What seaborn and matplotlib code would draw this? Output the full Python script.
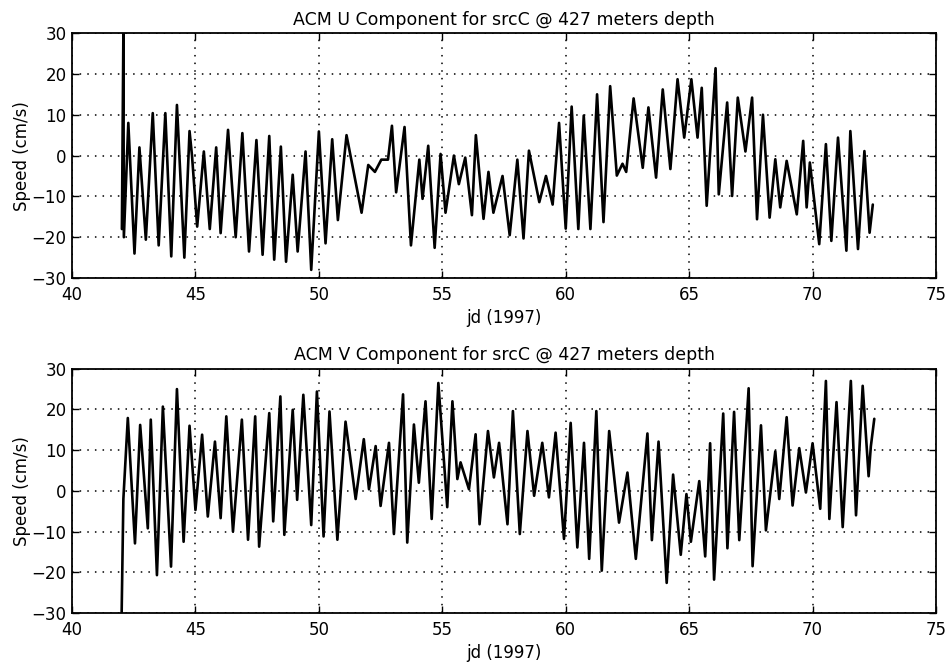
import numpy as np
import pandas as pd
import seaborn as sns
import matplotlib.pyplot as plt

# U component: turning points
u_day = [42.02, 42.08, 42.10, 42.28, 42.53, 42.73, 42.99, 43.27, 43.51, 43.78,
         44.02, 44.25, 44.55, 44.76, 44.86, 45.07, 45.34, 45.58, 45.84, 46.02,
         46.32, 46.63, 46.90, 47.17, 47.47, 47.72, 47.99, 48.19, 48.46, 48.67,
         48.94, 49.14, 49.46, 49.69, 50.00, 50.27, 50.54, 50.77, 51.12, 51.73,
         52.00, 52.27, 52.53, 52.80, 52.96, 53.13, 53.47, 53.73, 54.07, 54.20,
         54.43, 54.69, 54.93, 55.13, 55.47, 55.67, 55.93, 56.20, 56.36, 56.67,
         56.87, 57.07, 57.44, 57.73, 58.04, 58.29, 58.51, 58.93, 59.20, 59.47,
         59.73, 60.00, 60.24, 60.51, 60.73, 61.00, 61.27, 61.53, 61.80, 62.07,
         62.30, 62.45, 62.75, 63.12, 63.35, 63.66, 63.93, 64.24, 64.53, 64.80,
         65.09, 65.34, 65.51, 65.71, 66.07, 66.20, 66.54, 66.74, 66.97, 67.28,
         67.55, 67.75, 67.99, 68.26, 68.49, 68.69, 68.95, 69.36, 69.62, 69.76,
         69.89, 70.27, 70.54, 70.76, 71.03, 71.37, 71.53, 71.84, 72.10, 72.31,
         72.44]
u_speed = [-18, 30, -20, 8, -24, 2, -20.6, 10.4, -22, 10.4,
           -24.7, 12.4, -25, 6, 0, -17.4, 1, -18, 2, -19,
           6.3, -20, 5.5, -23.5, 3.8, -24.3, 4.8, -25.5, 2.2, -26,
           -4.7, -23.5, 1, -28, 5.9, -21.5, 4, -15.8, 5, -14,
           -2.3, -4, -1, -1, 7.3, -9, 7, -22, -1, -10.6,
           2.4, -22.6, 0.4, -14, 0, -7, -0.5, -14.6, 5, -15.5,
           -4, -14, -5, -19.5, -1, -20.3, 1.2, -11.4, -5, -12,
           8, -17.9, 12, -18, 9.8, -18, 15, -16.3, 17, -4.9,
           -2, -4, 14, -3, 11.8, -5.4, 16.2, -3.3, 18.7, 4.4,
           18.7, 4.4, 16.6, -12.3, 21.4, -9.5, 13, -9.9, 14.2, 1,
           14.2, -15.6, 10, -15.2, -0.9, -12.7, -1.3, -14.4, 3.6, -12.7,
           -1.7, -21.7, 2.8, -20.9, 4.4, -23.3, 6, -22.9, 1.1, -18.9,
           -12]

# V component: turning points
v_day = [42.01, 42.08, 42.26, 42.55, 42.76, 43.07, 43.19, 43.44, 43.68, 44.01,
         44.25, 44.52, 44.76, 45.00, 45.27, 45.50, 45.79, 46.02, 46.25, 46.52,
         46.88, 47.13, 47.42, 47.58, 47.99, 48.15, 48.44, 48.60, 48.94, 49.12,
         49.37, 49.69, 49.92, 50.19, 50.43, 50.75, 51.08, 51.49, 51.82, 52.03,
         52.30, 52.50, 52.84, 53.04, 53.41, 53.58, 53.85, 54.05, 54.32, 54.57,
         54.84, 55.20, 55.41, 55.61, 55.74, 56.08, 56.35, 56.51, 56.85, 57.09,
         57.30, 57.64, 57.86, 58.14, 58.45, 58.72, 59.05, 59.32, 59.59, 59.93,
         60.20, 60.47, 60.74, 60.95, 61.24, 61.46, 61.76, 62.16, 62.50, 62.84,
         63.31, 63.49, 63.76, 64.09, 64.35, 64.66, 64.89, 65.07, 65.41, 65.65,
         65.85, 66.01, 66.38, 66.55, 66.82, 67.03, 67.41, 67.57, 67.91, 68.11,
         68.49, 68.65, 68.95, 69.19, 69.46, 69.73, 70.00, 70.31, 70.54, 70.68,
         70.97, 71.22, 71.55, 71.76, 72.03, 72.27, 72.36, 72.50]
v_speed = [-30, -2, 17.9, -12.9, 16.2, -9.2, 17.5, -20.7, 20.7, -18.6,
           25, -12.5, 16, -4.7, 13.8, -6.3, 12.1, -6.7, 18.3, -10,
           17.5, -12, 18.3, -13.7, 19.1, -7.5, 23.2, -10.8, 19.9, -2.2,
           23.6, -8.4, 24.4, -11.2, 19.5, -12, 17, -2, 12.7, 0.4,
           11, -3.7, 11.8, -10.6, 23.7, -12.7, 16.3, 2, 22, -6.9,
           26.5, -4, 22, 2.9, 7, 0.4, 13.9, -8.2, 14.7, 3.3,
           11.8, -8.2, 19.6, -10.6, 14.7, -1.2, 11.8, -1.6, 14.3, -11.8,
           16.7, -13.9, 11.8, -16.7, 19.6, -19.6, 14.7, -7.8, 4.5, -16.7,
           14.1, -12.1, 12.1, -22.6, 4, -15.7, -0.8, -12.5, 2.4, -16.1,
           11.7, -21.8, 19, -14.1, 19.4, -12.1, 25.2, -18.5, 16.1, -9.7,
           9.7, -2, 18.1, -3.6, 10.5, -0.4, 11.7, -4.4, 27, -6.9,
           21.8, -8.9, 27, -6, 25.8, 3.6, 10.9, 17.7]

x_ticks = [40, 45, 50, 55, 60, 65, 70, 75]
y_ticks = [-30, -20, -10, 0, 10, 20, 30]

sns.set_style('ticks')
plt.rcParams['font.family'] = ['DejaVu Sans']
for k in ['text.color', 'axes.labelcolor', 'xtick.color', 'ytick.color', 'axes.edgecolor']:
    plt.rcParams[k] = 'black'

fig = plt.figure(figsize=(9.49, 6.62), dpi=100)
ax_u = fig.add_axes([0.0759, 0.580, 0.9104, 0.370])
ax_v = fig.add_axes([0.0759, 0.074, 0.9104, 0.369])

panels = [(ax_u, u_day, u_speed, 'U'), (ax_v, v_day, v_speed, 'V')]
for ax, day, speed, comp in panels:
    df = pd.DataFrame({'jd': day, 'speed': speed})
    sns.lineplot(data=df, x='jd', y='speed', ax=ax, color='black',
                 lw=1.9, estimator=None, sort=False)
    ax.set_xlim(40, 75)
    ax.set_ylim(-30, 30)
    ax.set_xticks(x_ticks)
    ax.set_yticks(y_ticks)
    ax.grid(True, color='black', ls=(0, (1, 4)), lw=1.1)
    ax.tick_params(direction='in', top=True, right=True, length=5, width=1,
                   labelsize=12)
    ax.tick_params(axis='x', pad=6)
    ax.tick_params(axis='y', pad=4)
    for s in ax.spines.values():
        s.set_linewidth(1.3)
    ax.set_title(f'ACM {comp} Component for srcC @ 427 meters depth', fontsize=12.5, pad=6)
    ax.set_xlabel('jd (1997)', fontsize=12, labelpad=3)
    ax.set_ylabel('Speed (cm/s)', fontsize=12, labelpad=0)

fig.savefig('out.png', dpi=100)
